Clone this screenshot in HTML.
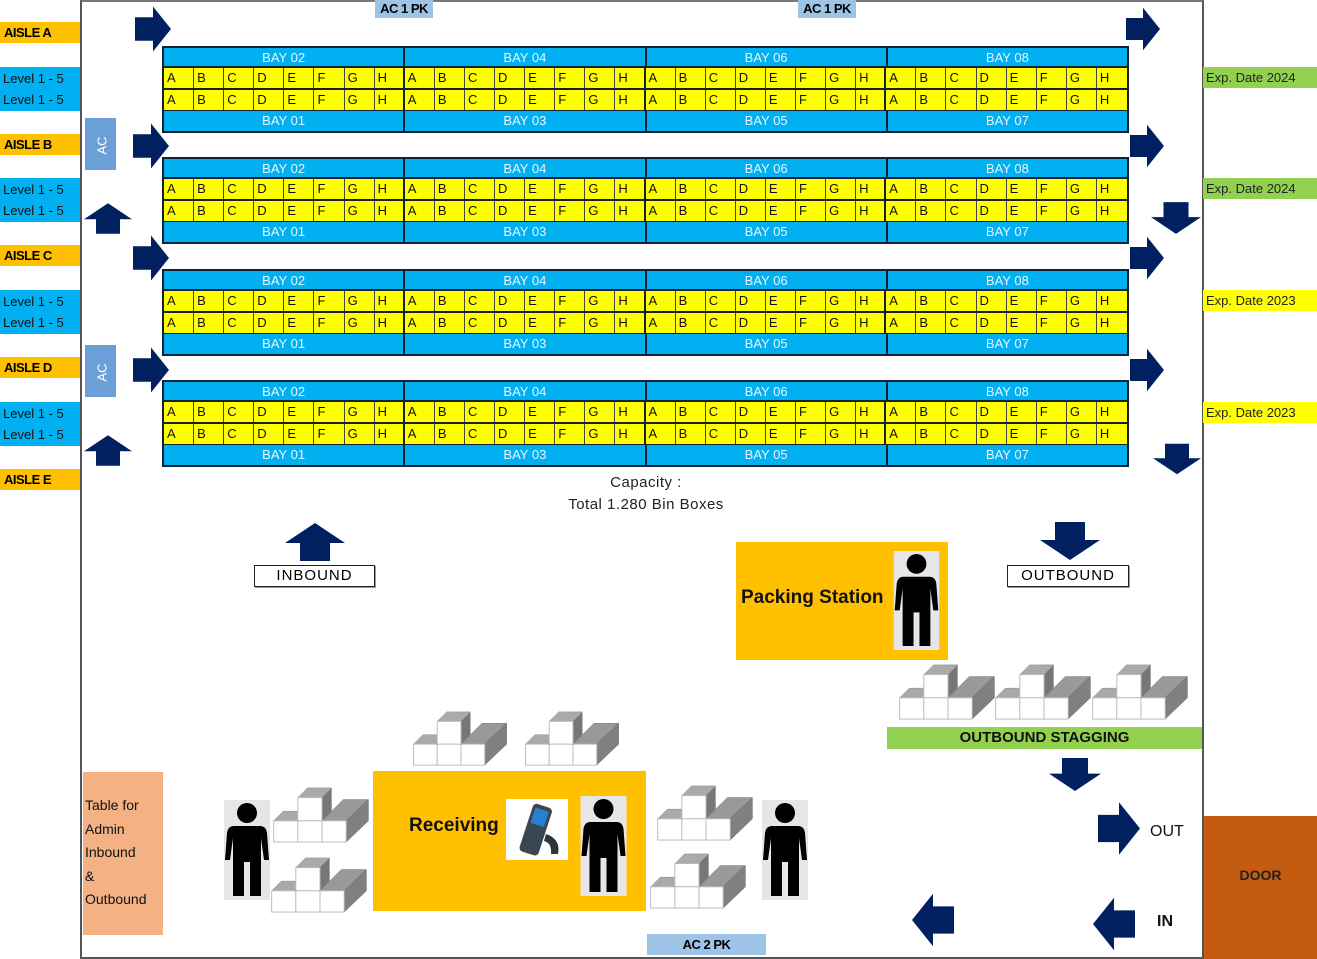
<!DOCTYPE html>
<html><head><meta charset="utf-8"><style>
body{margin:0;width:1317px;height:959px;background:#fff;position:relative;overflow:hidden;font-family:"Liberation Sans",sans-serif}
div{position:absolute;box-sizing:border-box}
.frame{left:80px;top:0;width:1124px;height:959px;border:2px solid #555;border-top:2px solid #777}
.or{background:#FFC000;font-size:13px;font-weight:bold;letter-spacing:-0.5px;padding-left:4px;line-height:21px;left:0;width:80px;height:21px}
.lv{background:#00B0F0;font-size:13px;left:0;width:80px;height:44px;padding:1px 0 0 3px;line-height:21px;color:#111}
.ex{left:1203px;width:114px;height:21px;font-size:13px;line-height:21px;padding-left:3px;color:#222}
.bh{left:162px;width:967px;height:21px;background:#00B0F0;border:2px solid #123;border-bottom:none;display:flex}
.bf{left:162px;width:967px;height:23px;background:#00B0F0;border:2px solid #123;border-top:1px solid #123;display:flex}
.bh span,.bf span{flex:1;text-align:center;color:#e8f6ff;font-size:13px;line-height:19px;border-right:2px solid #123}
.bh span:last-child,.bf span:last-child{border-right:none}
.r{left:162px;width:967px;height:22px;background:#FFFF00;border-left:2px solid #123;border-right:2px solid #123;border-top:2px solid #123;display:flex}
.r i{font-style:normal;width:30.1px;font-size:13px;line-height:20px;padding-left:3px;box-sizing:border-box;border-right:1px solid #444;color:#111}
.r i:nth-child(8n){border-right:2px solid #123}
.r i:last-child{border-right:none}
.ac{background:#9DC3E6;font-size:13px;font-weight:bold;text-align:center;line-height:18px;letter-spacing:-0.5px}
.acv{background:#6A9FD8;color:#fff;font-size:13px;left:85px;width:31px;height:52px}
.acv span{position:absolute;left:8px;top:20px;transform:rotate(-90deg)}
.lab{border:1px solid #222;background:#fff;font-size:15px;text-align:center;line-height:20px;letter-spacing:1px;box-shadow:1px 1px 0 #999}
svg{position:absolute}
</style></head><body>
<svg width="0" height="0" style="position:absolute">
<defs>
<symbol id="ar" viewBox="0 0 40 50"><polygon points="0,12 20,12 20,0 40,25 20,50 20,38 0,38" fill="#002060"/></symbol>
<symbol id="au" viewBox="0 0 60 38"><polygon points="0,20 30,0 60,20 45,20 45,38 15,38 15,20" fill="#002060"/></symbol>
<symbol id="cu" viewBox="0 0 100 60">
<polygon points="0,36 10,26 35,26 25,36" fill="#aaa" stroke="#888" stroke-width=".5"/>
<polygon points="50,36 72,14 98,14 75,36" fill="#999" stroke="#777" stroke-width=".5"/>
<polygon points="25,12 35,2 60,2 50,12" fill="#aaa" stroke="#888" stroke-width=".5"/>
<polygon points="50,12 60,2 60,26 50,36" fill="#777"/>
<polygon points="75,36 98,14 98,36 75,58" fill="#808080" stroke="#666" stroke-width=".5"/>
<rect x="25" y="12" width="25" height="24" fill="#fff" stroke="#bbb"/>
<rect x="0" y="36" width="25" height="22" fill="#fff" stroke="#bbb"/>
<rect x="25" y="36" width="25" height="22" fill="#fff" stroke="#bbb"/>
<rect x="50" y="36" width="25" height="22" fill="#fff" stroke="#bbb"/>
</symbol>
<symbol id="pp" viewBox="0 0 46 100"><rect width="46" height="100" fill="#e6e6e6"/><circle cx="23" cy="13" r="10" fill="#000"/><path d="M10,26 H36 Q42,26 43,33 L45,60 H40 L37,38 V96 H26 V62 H20 V96 H9 V38 L6,60 H1 L3,33 Q4,26 10,26Z" fill="#000"/></symbol>
</defs></svg>

<div class="frame"></div>

<div class="or" style="top:22px">AISLE A</div>
<div class="lv" style="top:67px">Level 1 - 5<br>Level 1 - 5</div>
<div class="or" style="top:134px">AISLE B</div>
<div class="lv" style="top:178px">Level 1 - 5<br>Level 1 - 5</div>
<div class="or" style="top:245px">AISLE C</div>
<div class="lv" style="top:290px">Level 1 - 5<br>Level 1 - 5</div>
<div class="or" style="top:357px">AISLE D</div>
<div class="lv" style="top:402px">Level 1 - 5<br>Level 1 - 5</div>
<div class="or" style="top:469px">AISLE E</div>

<div class="ex" style="top:67px;background:#92D050">Exp. Date 2024</div>
<div class="ex" style="top:178px;background:#92D050">Exp. Date 2024</div>
<div class="ex" style="top:290px;background:#FFFF00">Exp. Date 2023</div>
<div class="ex" style="top:402px;background:#FFFF00">Exp. Date 2023</div>

<div class="ac" style="left:375px;top:0;width:58px;height:18px">AC 1 PK</div>
<div class="ac" style="left:798px;top:0;width:58px;height:18px">AC 1 PK</div>
<div class="ac" style="left:647px;top:934px;width:119px;height:21px;line-height:21px">AC 2 PK</div>
<div class="acv" style="top:118px"><span>AC</span></div>
<div class="acv" style="top:345px"><span>AC</span></div>

<!-- block 1 -->
<div class="bh" style="top:46px"><span>BAY 02</span><span>BAY 04</span><span>BAY 06</span><span>BAY 08</span></div>
<div class="r" style="top:66px"><i>A</i><i>B</i><i>C</i><i>D</i><i>E</i><i>F</i><i>G</i><i>H</i><i>A</i><i>B</i><i>C</i><i>D</i><i>E</i><i>F</i><i>G</i><i>H</i><i>A</i><i>B</i><i>C</i><i>D</i><i>E</i><i>F</i><i>G</i><i>H</i><i>A</i><i>B</i><i>C</i><i>D</i><i>E</i><i>F</i><i>G</i><i>H</i></div>
<div class="r" style="top:88px"><i>A</i><i>B</i><i>C</i><i>D</i><i>E</i><i>F</i><i>G</i><i>H</i><i>A</i><i>B</i><i>C</i><i>D</i><i>E</i><i>F</i><i>G</i><i>H</i><i>A</i><i>B</i><i>C</i><i>D</i><i>E</i><i>F</i><i>G</i><i>H</i><i>A</i><i>B</i><i>C</i><i>D</i><i>E</i><i>F</i><i>G</i><i>H</i></div>
<div class="bf" style="top:110px"><span>BAY 01</span><span>BAY 03</span><span>BAY 05</span><span>BAY 07</span></div>
<!-- block 2 -->
<div class="bh" style="top:157px"><span>BAY 02</span><span>BAY 04</span><span>BAY 06</span><span>BAY 08</span></div>
<div class="r" style="top:177px"><i>A</i><i>B</i><i>C</i><i>D</i><i>E</i><i>F</i><i>G</i><i>H</i><i>A</i><i>B</i><i>C</i><i>D</i><i>E</i><i>F</i><i>G</i><i>H</i><i>A</i><i>B</i><i>C</i><i>D</i><i>E</i><i>F</i><i>G</i><i>H</i><i>A</i><i>B</i><i>C</i><i>D</i><i>E</i><i>F</i><i>G</i><i>H</i></div>
<div class="r" style="top:199px"><i>A</i><i>B</i><i>C</i><i>D</i><i>E</i><i>F</i><i>G</i><i>H</i><i>A</i><i>B</i><i>C</i><i>D</i><i>E</i><i>F</i><i>G</i><i>H</i><i>A</i><i>B</i><i>C</i><i>D</i><i>E</i><i>F</i><i>G</i><i>H</i><i>A</i><i>B</i><i>C</i><i>D</i><i>E</i><i>F</i><i>G</i><i>H</i></div>
<div class="bf" style="top:221px"><span>BAY 01</span><span>BAY 03</span><span>BAY 05</span><span>BAY 07</span></div>
<!-- block 3 -->
<div class="bh" style="top:269px"><span>BAY 02</span><span>BAY 04</span><span>BAY 06</span><span>BAY 08</span></div>
<div class="r" style="top:289px"><i>A</i><i>B</i><i>C</i><i>D</i><i>E</i><i>F</i><i>G</i><i>H</i><i>A</i><i>B</i><i>C</i><i>D</i><i>E</i><i>F</i><i>G</i><i>H</i><i>A</i><i>B</i><i>C</i><i>D</i><i>E</i><i>F</i><i>G</i><i>H</i><i>A</i><i>B</i><i>C</i><i>D</i><i>E</i><i>F</i><i>G</i><i>H</i></div>
<div class="r" style="top:311px"><i>A</i><i>B</i><i>C</i><i>D</i><i>E</i><i>F</i><i>G</i><i>H</i><i>A</i><i>B</i><i>C</i><i>D</i><i>E</i><i>F</i><i>G</i><i>H</i><i>A</i><i>B</i><i>C</i><i>D</i><i>E</i><i>F</i><i>G</i><i>H</i><i>A</i><i>B</i><i>C</i><i>D</i><i>E</i><i>F</i><i>G</i><i>H</i></div>
<div class="bf" style="top:333px"><span>BAY 01</span><span>BAY 03</span><span>BAY 05</span><span>BAY 07</span></div>
<!-- block 4 -->
<div class="bh" style="top:380px"><span>BAY 02</span><span>BAY 04</span><span>BAY 06</span><span>BAY 08</span></div>
<div class="r" style="top:400px"><i>A</i><i>B</i><i>C</i><i>D</i><i>E</i><i>F</i><i>G</i><i>H</i><i>A</i><i>B</i><i>C</i><i>D</i><i>E</i><i>F</i><i>G</i><i>H</i><i>A</i><i>B</i><i>C</i><i>D</i><i>E</i><i>F</i><i>G</i><i>H</i><i>A</i><i>B</i><i>C</i><i>D</i><i>E</i><i>F</i><i>G</i><i>H</i></div>
<div class="r" style="top:422px"><i>A</i><i>B</i><i>C</i><i>D</i><i>E</i><i>F</i><i>G</i><i>H</i><i>A</i><i>B</i><i>C</i><i>D</i><i>E</i><i>F</i><i>G</i><i>H</i><i>A</i><i>B</i><i>C</i><i>D</i><i>E</i><i>F</i><i>G</i><i>H</i><i>A</i><i>B</i><i>C</i><i>D</i><i>E</i><i>F</i><i>G</i><i>H</i></div>
<div class="bf" style="top:444px"><span>BAY 01</span><span>BAY 03</span><span>BAY 05</span><span>BAY 07</span></div>

<!-- arrows right -->
<svg style="left:135px;top:5px" width="36" height="48"><use href="#ar" width="36" height="48"/></svg>
<svg style="left:133px;top:122px" width="36" height="48"><use href="#ar" width="36" height="48"/></svg>
<svg style="left:133px;top:234px" width="36" height="48"><use href="#ar" width="36" height="48"/></svg>
<svg style="left:133px;top:346px" width="36" height="48"><use href="#ar" width="36" height="48"/></svg>
<svg style="left:1126px;top:5px" width="34" height="48"><use href="#ar" width="34" height="48"/></svg>
<svg style="left:1130px;top:122px" width="34" height="48"><use href="#ar" width="34" height="48"/></svg>
<svg style="left:1130px;top:234px" width="34" height="48"><use href="#ar" width="34" height="48"/></svg>
<svg style="left:1130px;top:346px" width="34" height="48"><use href="#ar" width="34" height="48"/></svg>
<!-- up arrows -->
<svg style="left:84px;top:202px" width="48" height="33"><use href="#au" width="48" height="33" preserveAspectRatio="none"/></svg>
<svg style="left:84px;top:434px" width="48" height="33"><use href="#au" width="48" height="33" preserveAspectRatio="none"/></svg>
<svg style="left:285px;top:523px" width="60" height="38"><use href="#au" width="60" height="38" preserveAspectRatio="none"/></svg>
<!-- down arrows -->
<svg style="left:1151px;top:201px;transform:scaleY(-1)" width="50" height="34"><use href="#au" width="50" height="34" preserveAspectRatio="none"/></svg>
<svg style="left:1153px;top:443px;transform:scaleY(-1)" width="48" height="32"><use href="#au" width="48" height="32" preserveAspectRatio="none"/></svg>
<svg style="left:1040px;top:522px;transform:scaleY(-1)" width="60" height="38"><use href="#au" width="60" height="38" preserveAspectRatio="none"/></svg>
<svg style="left:1043px;top:758px;transform:scaleY(-1)" width="64" height="33"><use href="#au" width="64" height="33" preserveAspectRatio="none"/></svg>
<!-- OUT / IN arrows -->
<svg style="left:1098px;top:800px" width="42" height="57"><use href="#ar" width="42" height="57" preserveAspectRatio="none"/></svg>
<svg style="left:912px;top:893px;transform:scaleX(-1)" width="42" height="54"><use href="#ar" width="42" height="54" preserveAspectRatio="none"/></svg>
<svg style="left:1093px;top:897px;transform:scaleX(-1)" width="42" height="54"><use href="#ar" width="42" height="54" preserveAspectRatio="none"/></svg>

<div style="left:540px;top:472px;width:212px;text-align:center;font-size:15px;line-height:22px;color:#222;letter-spacing:.5px">Capacity :<br>Total 1.280 Bin Boxes</div>

<div class="lab" style="left:254px;top:565px;width:121px;height:22px">INBOUND</div>
<div class="lab" style="left:1007px;top:565px;width:122px;height:22px">OUTBOUND</div>

<div style="left:736px;top:542px;width:212px;height:118px;background:#FFC000"></div>
<div style="left:741px;top:587px;font-size:19px;font-weight:bold;color:#111">Packing Station</div>
<svg style="left:893px;top:551px" width="47" height="99"><use href="#pp" width="47" height="99" preserveAspectRatio="none"/></svg>

<svg style="left:899px;top:663px" width="98" height="58"><use href="#cu" width="98" height="58" preserveAspectRatio="none"/></svg>
<svg style="left:995px;top:663px" width="98" height="58"><use href="#cu" width="98" height="58" preserveAspectRatio="none"/></svg>
<svg style="left:1092px;top:663px" width="98" height="58"><use href="#cu" width="98" height="58" preserveAspectRatio="none"/></svg>
<div style="left:887px;top:727px;width:315px;height:22px;background:#92D050;text-align:center;font-weight:bold;font-size:15px;line-height:22px;color:#111">OUTBOUND STAGGING</div>

<div style="left:1150px;top:823px;font-size:16px;color:#111">OUT</div>
<div style="left:1157px;top:913px;font-size:16px;font-weight:bold;color:#111">IN</div>

<div style="left:1204px;top:816px;width:113px;height:143px;background:#C55A11;font-size:14px;font-weight:bold;line-height:118px;text-align:center;color:#222">DOOR</div>

<div style="left:83px;top:772px;width:80px;height:163px;background:#F4B183;font-size:14px;line-height:23.5px;padding:22px 0 0 2px;color:#111">Table for<br>Admin<br>Inbound<br>&amp;<br>Outbound</div>

<svg style="left:412px;top:710px" width="98" height="57"><use href="#cu" width="98" height="57" preserveAspectRatio="none"/></svg>
<svg style="left:524px;top:710px" width="98" height="57"><use href="#cu" width="98" height="57" preserveAspectRatio="none"/></svg>
<svg style="left:273px;top:786px" width="98" height="58"><use href="#cu" width="98" height="58" preserveAspectRatio="none"/></svg>
<svg style="left:271px;top:856px" width="98" height="58"><use href="#cu" width="98" height="58" preserveAspectRatio="none"/></svg>
<svg style="left:657px;top:784px" width="98" height="58"><use href="#cu" width="98" height="58" preserveAspectRatio="none"/></svg>
<svg style="left:650px;top:852px" width="98" height="58"><use href="#cu" width="98" height="58" preserveAspectRatio="none"/></svg>

<div style="left:373px;top:771px;width:273px;height:140px;background:#FFC000"></div>
<div style="left:409px;top:815px;font-size:19px;font-weight:bold;color:#111">Receiving</div>
<div style="left:506px;top:799px;width:62px;height:61px;background:#fff"></div>
<svg style="left:506px;top:799px" width="62" height="61"><g transform="rotate(18 31 30)"><rect x="20" y="6" width="20" height="50" rx="4" fill="#3a4650"/><rect x="23" y="10" width="14" height="16" fill="#2a80d0"/></g><path d="M40,35 Q55,40 52,55 L45,55 Q46,44 38,42Z" fill="#2d353c"/></svg>
<svg style="left:580px;top:796px" width="47" height="100"><use href="#pp" width="47" height="100" preserveAspectRatio="none"/></svg>
<svg style="left:224px;top:800px" width="46" height="100"><use href="#pp" width="46" height="100" preserveAspectRatio="none"/></svg>
<svg style="left:762px;top:800px" width="46" height="100"><use href="#pp" width="46" height="100" preserveAspectRatio="none"/></svg>
</body></html>
